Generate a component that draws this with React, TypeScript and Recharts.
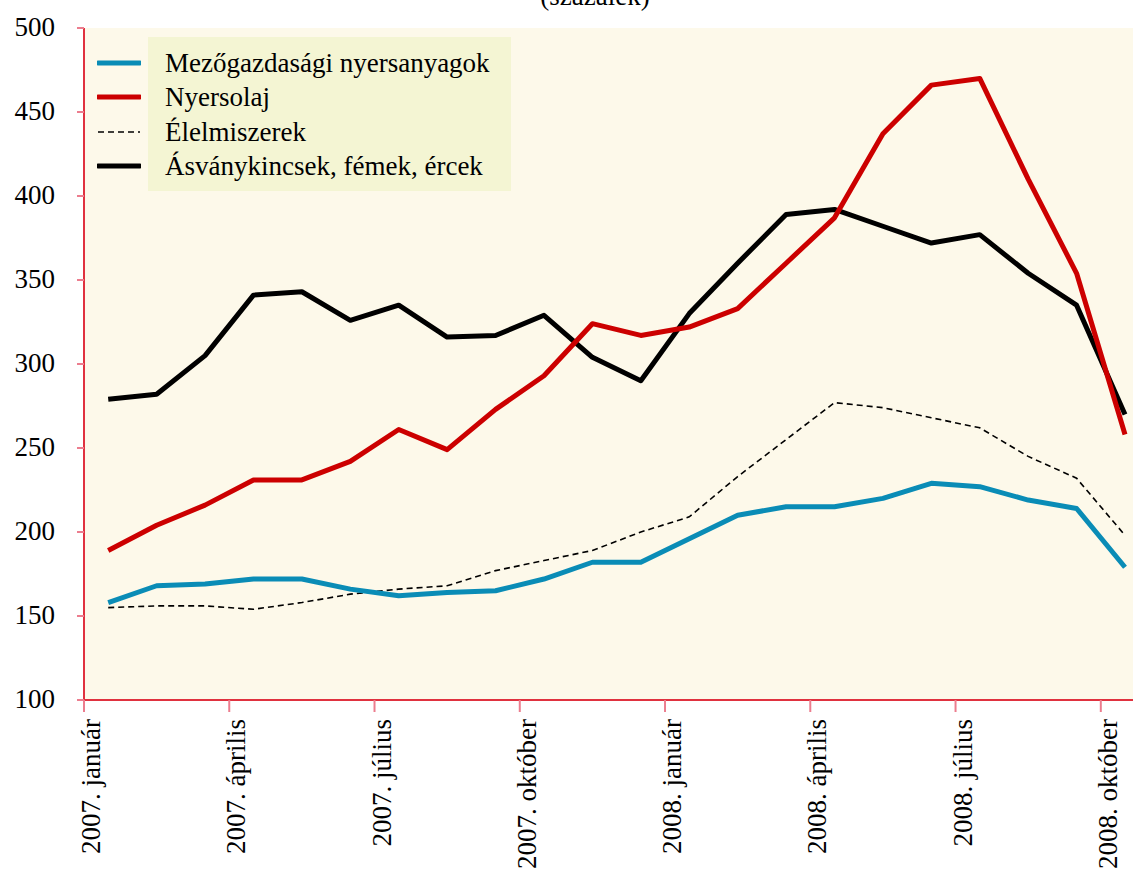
import React from "react";
import { LineChart, Line, XAxis, YAxis, CartesianGrid } from "recharts";

// monthly values, 2007 January – 2008 October (percent)
const months = [
  "2007-01", "2007-02", "2007-03", "2007-04", "2007-05", "2007-06",
  "2007-07", "2007-08", "2007-09", "2007-10", "2007-11", "2007-12",
  "2008-01", "2008-02", "2008-03", "2008-04", "2008-05", "2008-06",
  "2008-07", "2008-08", "2008-09", "2008-10",
];
const mezogazdasagi = [158, 168, 169, 172, 172, 166, 162, 164, 165, 172, 182, 182, 196, 210, 215, 215, 220, 229, 227, 219, 214, 179];
const nyersolaj = [189, 204, 216, 231, 231, 242, 261, 249, 273, 293, 324, 317, 322, 333, 360, 387, 437, 466, 470, 410, 354, 258];
const elelmiszerek = [155, 156, 156, 154, 158, 163, 166, 168, 177, 183, 189, 200, 209, 233, 255, 277, 274, 268, 262, 245, 232, 198];
const asvanykincsek = [279, 282, 305, 341, 343, 326, 335, 316, 317, 329, 304, 290, 330, 360, 389, 392, 382, 372, 377, 354, 335, 270];

// quarter starts (month index) and their labels
const quarterStarts = [0, 3, 6, 9, 12, 15, 18, 21];
const xTickLabels = [
  "2007. január", "2007. április", "2007. július", "2007. október",
  "2008. január", "2008. április", "2008. július", "2008. október",
];
const yTicks = [100, 150, 200, 250, 300, 350, 400, 450, 500];

const seriesNames = [
  "Mezőgazdasági nyersanyagok",
  "Nyersolaj",
  "Élelmiszerek",
  "Ásványkincsek, fémek, ércek",
];

const FONT = '"Liberation Serif", "Times New Roman", Times, "DejaVu Serif", serif';
const BLUE = "#0a8cb6";
const RED = "#cc0000";
const AXIS = "#e0323f";
const TICK = "#ec7d8e";

const data = months.map((m, i) => ({
  i,
  month: m,
  mezo: mezogazdasagi[i],
  olaj: nyersolaj[i],
  elel: elelmiszerek[i],
  asvany: asvanykincsek[i],
}));

// tick marks sit between months, on the quarter boundary
const xTicks = quarterStarts.map((m) => m - 0.5);

const XTick = (props: any) => {
  const { x, y, payload } = props;
  const idx = xTicks.indexOf(payload.value);
  const label = idx >= 0 ? xTickLabels[idx] : "";
  const tx = x + 16;
  const ty = y + 5;
  return (
    <text
      x={tx}
      y={ty}
      transform={`rotate(-90, ${tx}, ${ty})`}
      textAnchor="end"
      style={{ fontFamily: FONT }}
      fontSize={27}
      fill="#000"
    >
      {label}
    </text>
  );
};

const swatches = [
  { color: BLUE, width: 5, dash: undefined as string | undefined },
  { color: RED, width: 5, dash: undefined },
  { color: "#000", width: 1.6, dash: "6 4" },
  { color: "#000", width: 5, dash: undefined },
];

function ChartLegend() {
  return (
    <div style={{ position: "absolute", left: 97, top: 37, width: 420, height: 154 }}>
      <div
        style={{
          position: "absolute",
          left: 51,
          top: 0,
          width: 363,
          height: 154,
          background: "#f4f5d3",
        }}
      />
      {seriesNames.map((name, idx) => (
        <div
          key={name}
          style={{
            position: "absolute",
            left: 0,
            top: 9 + idx * 34.3,
            height: 34,
            display: "flex",
            alignItems: "center",
          }}
        >
          <svg width={44} height={10} style={{ display: "block" }}>
            <line
              x1={1}
              x2={43}
              y1={5}
              y2={5}
              stroke={swatches[idx].color}
              strokeWidth={swatches[idx].width}
              strokeDasharray={swatches[idx].dash}
              strokeLinecap={swatches[idx].dash ? "butt" : "round"}
            />
          </svg>
          <span
            style={{
              marginLeft: 24,
              fontFamily: FONT,
              fontSize: 27,
              lineHeight: "34px",
              color: "#000",
              whiteSpace: "nowrap",
            }}
          >
            {name}
          </span>
        </div>
      ))}
    </div>
  );
}

export default function App() {
  return (
    <div
      style={{
        position: "absolute",
        left: 0,
        top: 0,
        width: 1133,
        height: 875,
        background: "#fff",
        overflow: "hidden",
        fontFamily: FONT,
      }}
    >
      <svg width={1133} height={20} style={{ position: "absolute", left: 0, top: 0 }}>
        <text x={595} y={5} textAnchor="middle" style={{ fontFamily: FONT }} fontSize={27} fill="#000">
          (százalék)
        </text>
      </svg>
      <LineChart
        width={1133}
        height={875}
        data={data}
        margin={{ top: 28, right: 0, bottom: 0, left: 0 }}
        style={{ position: "absolute", left: 0, top: 0 }}
      >
        <CartesianGrid fill="#fdf9ea" stroke="none" />
        <XAxis
          dataKey="i"
          type="number"
          domain={[-0.5, 21.165]}
          allowDataOverflow
          ticks={xTicks}
          interval={0}
          height={175}
          axisLine={{ stroke: AXIS, strokeWidth: 2 }}
          tickLine={{ stroke: TICK, strokeWidth: 2 }}
          tickSize={12}
          tick={<XTick />}
        />
        <YAxis
          type="number"
          domain={[100, 500]}
          ticks={yTicks}
          interval={0}
          width={84}
          axisLine={{ stroke: AXIS, strokeWidth: 2 }}
          tickLine={{ stroke: TICK, strokeWidth: 2 }}
          tickSize={7}
          tickMargin={22}
          tick={{ style: { fontFamily: FONT }, fontSize: 27, fill: "#000", dy: -2 }}
        />
        <Line
          type="linear"
          dataKey="elel"
          stroke="#000"
          strokeWidth={1.6}
          strokeDasharray="6 4"
          dot={false}
          activeDot={false}
          isAnimationActive={false}
        />
        <Line
          type="linear"
          dataKey="mezo"
          stroke={BLUE}
          strokeWidth={5}
          strokeLinejoin="round"
          dot={false}
          activeDot={false}
          isAnimationActive={false}
        />
        <Line
          type="linear"
          dataKey="asvany"
          stroke="#000"
          strokeWidth={5}
          strokeLinejoin="round"
          dot={false}
          activeDot={false}
          isAnimationActive={false}
        />
        <Line
          type="linear"
          dataKey="olaj"
          stroke={RED}
          strokeWidth={5}
          strokeLinejoin="round"
          dot={false}
          activeDot={false}
          isAnimationActive={false}
        />
      </LineChart>
      <ChartLegend />
    </div>
  );
}
